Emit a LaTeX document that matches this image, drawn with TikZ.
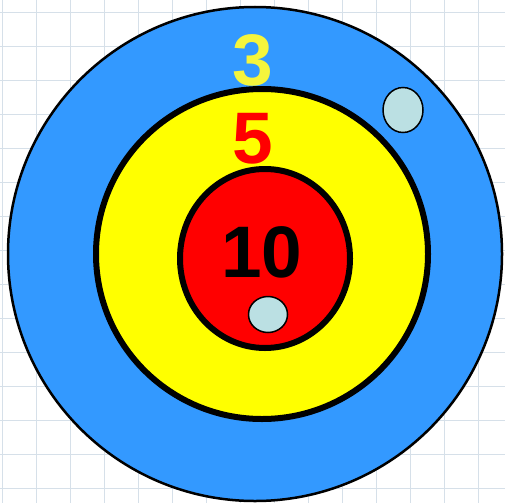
\documentclass[tikz,border=0pt]{standalone}
\usepackage{fontspec}
\setmainfont{Liberation Sans}
\usetikzlibrary{shapes.geometric}
\definecolor{gridline}{RGB}{214,224,233}
\definecolor{ringblue}{RGB}{51,153,255}
\definecolor{ringyellow}{RGB}{255,255,0}
\definecolor{ringred}{RGB}{255,0,0}
\definecolor{ballblue}{RGB}{187,224,227}
\definecolor{threeyellow}{RGB}{245,245,60}

\begin{document}
\begin{tikzpicture}[x=1pt, y=-1pt,
    ring/.style={draw, ellipse, inner sep=0pt},
    ball/.style={draw, ellipse, fill=ballblue, line width=1.5pt, inner sep=0pt},
    score/.style={font=\fontsize{73}{73}\selectfont\bfseries, inner sep=0pt}]
  \useasboundingbox (0,0) rectangle (505,503);
  \clip (0,0) rectangle (505,503);
  \fill[white] (0,0) rectangle (505,503);
  % squared paper
  \foreach \k in {0,...,14} {
    \draw[gridline, line width=1pt] (2.5+34*\k,0) -- (2.5+34*\k,503);
    \draw[gridline, line width=1pt] (0,12.5+34*\k) -- (505,12.5+34*\k);
  }
  % target rings
  \node[ring, fill=ringblue, line width=2.5pt, minimum width=494pt, minimum height=494pt] (outer) at (255,254) {};
  \node[ring, fill=ringyellow, line width=6pt, minimum width=332pt, minimum height=330pt] (middle) at (262,254) {};
  \node[ring, fill=ringred, line width=6pt, minimum width=170pt, minimum height=179pt] (inner) at (265,258.5) {};
  % scores
  \node[score, text=threeyellow] (three) at (253,60) {3};
  \node[score, text=ringred] (five) at (253,139) {5};
  \node[score, text=black] (ten) at (262,252) {10};
  % hits
  \node[ball, minimum width=40pt, minimum height=45pt] (hitA) at (403,110) {};
  \node[ball, minimum width=39pt, minimum height=36pt] (hitB) at (268,314.5) {};
\end{tikzpicture}
\end{document}
